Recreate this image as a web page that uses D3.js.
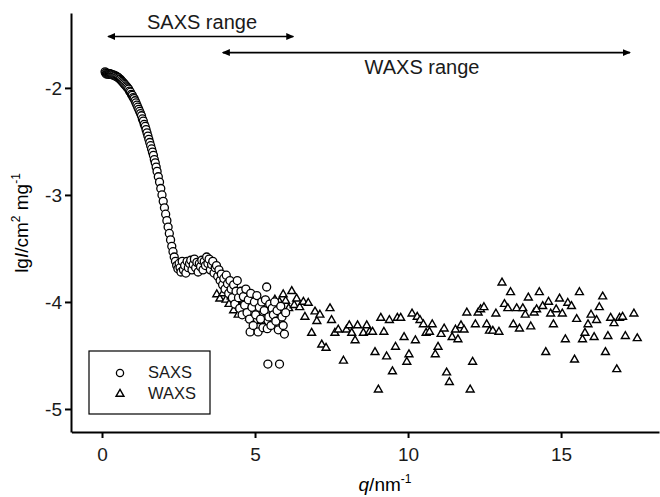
<!DOCTYPE html>
<html>
<head>
<meta charset="utf-8">
<script src="https://cdn.jsdelivr.net/npm/d3@7"></script>
<style>
    body { margin: 0; background: #fff; }
    svg { display: block; font-family: "Liberation Sans", Arial, sans-serif; }
    .axis path, .axis line { stroke: #000; stroke-width: 2px; }
    .axis text { font-size: 19px; fill: #1a1a1a; }
</style>
</head>
<body>
<svg id="chart" width="660" height="497"></svg>
<script>
// SAXS curve (q in nm^-1, lg I)
const saxsQ = [
    0.10, 0.12, 0.14, 0.16, 0.18, 0.20, 0.22, 0.24, 0.26, 0.28, 0.30, 0.33, 0.36, 0.39, 0.42, 0.45,
    0.48, 0.51, 0.54, 0.57, 0.60, 0.63, 0.66, 0.69, 0.72, 0.75, 0.78, 0.81, 0.84, 0.87, 0.90, 0.93,
    0.96, 0.99, 1.02, 1.05, 1.08, 1.11, 1.14, 1.17, 1.20, 1.23, 1.26, 1.29, 1.32, 1.35, 1.38, 1.41,
    1.44, 1.47, 1.50, 1.53, 1.56, 1.59, 1.62, 1.65, 1.68, 1.71, 1.74, 1.77, 1.80, 1.84, 1.88, 1.92,
    1.96, 2.00, 2.04, 2.08, 2.12, 2.16, 2.20, 2.24, 2.28, 2.32, 2.36, 2.40, 2.44, 2.48,
    2.52, 2.55, 2.58, 2.62, 2.66, 2.70, 2.74, 2.78, 2.82, 2.86, 2.90, 2.94, 2.98, 3.02, 3.06, 3.10,
    3.14, 3.18, 3.22, 3.26, 3.30, 3.34, 3.38, 3.42, 3.46, 3.50, 3.54, 3.58, 3.62, 3.66, 3.70, 3.74,
    3.78, 3.82, 3.86, 3.90, 3.94, 3.98, 4.02, 4.06, 4.10, 4.14, 4.18, 4.22, 4.26, 4.30, 4.34, 4.38,
    4.42, 4.46, 4.50, 4.54, 4.58, 4.62, 4.66, 4.70, 4.74, 4.78, 4.82, 4.84, 4.86, 4.90, 4.94, 4.98,
    5.02, 5.06, 5.10, 5.14, 5.18, 5.22, 5.26, 5.30, 5.34, 5.38, 5.40, 5.42, 5.45, 5.48, 5.52, 5.56,
    5.60, 5.64, 5.68, 5.72, 5.76, 5.80, 5.84, 5.88, 5.92, 5.96, 6.00
]
const saxsI = [
    -1.85, -1.86, -1.87, -1.865, -1.87, -1.865, -1.87, -1.87, -1.87, -1.87, -1.875, -1.875, -1.88, -1.88, -1.885, -1.89,
    -1.895, -1.90, -1.905, -1.915, -1.92, -1.93, -1.94, -1.95, -1.96, -1.97, -1.98, -1.99, -2.00, -2.01, -2.03, -2.04,
    -2.06, -2.07, -2.09, -2.10, -2.12, -2.14, -2.16, -2.18, -2.20, -2.22, -2.24, -2.26, -2.29, -2.31, -2.34, -2.36,
    -2.39, -2.42, -2.45, -2.48, -2.51, -2.54, -2.57, -2.60, -2.63, -2.67, -2.70, -2.74, -2.78, -2.83, -2.88, -2.94,
    -3.00, -3.06, -3.12, -3.18, -3.24, -3.30, -3.36, -3.42, -3.48, -3.53, -3.58, -3.62, -3.66, -3.69,
    -3.64, -3.68, -3.72, -3.62, -3.70, -3.66, -3.73, -3.62, -3.68, -3.64, -3.61, -3.70, -3.65, -3.60, -3.68, -3.63,
    -3.72, -3.64, -3.67, -3.61, -3.70, -3.62, -3.66, -3.58, -3.64, -3.60, -3.70, -3.65, -3.62, -3.73, -3.68, -3.66,
    -3.76, -3.70, -3.80, -3.74, -3.84, -3.78, -3.88, -3.75, -3.83, -3.92, -3.80, -3.88, -3.96, -3.84, -4.02, -3.90,
    -3.80, -3.96, -4.06, -3.90, -4.12, -3.95, -4.03, -3.88, -4.10, -3.98, -4.16, -4.28, -3.92, -4.05, -4.22, -4.00,
    -4.12, -3.94, -4.28, -4.05, -4.16, -4.00, -4.24, -4.08, -3.98, -3.86, -4.25, -4.58, -4.14, -4.02, -4.22, -4.06,
    -4.12, -4.00, -4.18, -4.08, -4.26, -4.58, -4.04, -4.14, -4.22, -4.30, -4.10
]

// WAXS points
const waxsQ = [
    3.75, 3.85, 3.95, 4.05, 4.15, 4.22, 4.30, 4.38, 4.45, 4.52, 4.60, 4.68, 4.75, 4.82, 4.90, 4.98,
    5.05, 5.12, 5.20, 5.28, 5.35, 5.42, 5.50, 5.58, 5.65, 5.72, 5.80, 5.88, 5.92, 6.00, 6.10, 6.20,
    6.28, 6.36, 6.46, 6.58, 6.63, 6.74, 6.85, 6.96, 7.02, 7.12, 7.18, 7.32, 7.45, 7.50,
    7.61, 7.72, 7.89, 7.99, 8.08, 8.16, 8.27, 8.35, 8.54, 8.65, 8.74, 8.84, 8.92, 9.03, 9.11, 9.21,
    9.30, 9.39, 9.49, 9.59, 9.65, 9.76, 9.87, 9.96, 10.03, 10.13, 10.24, 10.30, 10.39, 10.50, 10.59, 10.70,
    10.79, 10.89, 10.98, 11.08, 11.18, 11.26, 11.35, 11.44, 11.55, 11.63, 11.73, 11.83, 11.92, 12.03, 12.11, 12.20,
    12.29, 12.37, 12.48, 12.57, 12.66, 12.77, 12.87, 12.97, 13.07, 13.15, 13.26, 13.35, 13.44, 13.55, 13.64, 13.75,
    13.83, 13.93, 14.01, 14.12, 14.20, 14.29, 14.40, 14.50, 14.59, 14.66, 14.75, 14.84, 14.95, 15.04, 15.14, 15.22,
    15.34, 15.44, 15.51, 15.60, 15.70, 15.78, 15.88, 15.98, 16.08, 16.16, 16.25, 16.36, 16.45, 16.53, 16.62, 16.73,
    16.82, 16.91, 17.01, 17.10, 17.38, 17.49
]
const waxsI = [
    -3.93, -3.97, -3.92, -3.98, -4.02, -3.95, -4.08, -3.99, -4.12, -4.05, -3.97, -4.10, -4.02, -4.15, -4.05, -3.98,
    -4.10, -4.02, -4.18, -4.06, -3.99, -4.10, -4.04, -4.14, -3.98, -4.06, -4.00, -4.10, -3.93, -3.99, -4.06, -3.90,
    -4.03, -3.97, -4.05, -4.00, -4.14, -4.01, -4.29, -4.09, -4.18, -4.12, -4.40, -4.43, -4.06, -4.17,
    -4.29, -4.26, -4.55, -4.26, -4.22, -4.29, -4.36, -4.22, -4.29, -4.22, -4.28, -4.28, -4.47, -4.82, -4.15, -4.28,
    -4.51, -4.17, -4.65, -4.42, -4.15, -4.15, -4.33, -4.56, -4.49, -4.11, -4.36, -4.14, -4.17, -4.21, -4.29, -4.28,
    -4.21, -4.49, -4.42, -4.30, -4.25, -4.66, -4.75, -4.33, -4.26, -4.35, -4.22, -4.26, -4.10, -4.82, -4.56, -4.21,
    -4.10, -4.07, -4.05, -4.21, -4.27, -4.27, -4.11, -4.28, -3.82, -4.02, -4.06, -3.91, -4.21, -4.06, -4.25, -4.06,
    -4.12, -3.96, -4.23, -4.10, -4.07, -3.91, -4.04, -4.47, -4.00, -4.11, -4.21, -4.07, -3.97, -4.11, -4.35, -4.01,
    -4.04, -4.54, -4.16, -3.91, -4.35, -4.29, -4.21, -4.12, -4.33, -4.17, -4.05, -3.95, -4.47, -4.32, -4.15, -4.20,
    -4.63, -4.15, -4.14, -4.32, -4.11, -4.34
]

const xTicks = [0, 5, 10, 15]
const yTicks = [-2, -3, -4, -5]

// q ranges covered by each method
const saxsRange = [0.2, 6.25]
const waxsRange = [3.95, 17.25]

const svg = d3.select("#chart")

const x = d3.scaleLinear().domain([-1, 18.2]).range([71.4, 659])
const y = d3.scaleLinear().domain([-5.215, -1.3]).range([432, 13])

svg.append("g")
    .attr("class", "axis")
    .attr("transform", "translate(0,432)")
    .call(d3.axisBottom(x).tickValues(xTicks).tickSize(6).tickSizeOuter(0).tickPadding(10))
    .call(g => g.selectAll("text").attr("font-family", null))

svg.append("g")
    .attr("class", "axis")
    .attr("transform", "translate(71,0)")
    .call(d3.axisLeft(y).tickValues(yTicks).tickSize(6).tickSizeOuter(0).tickPadding(3)
        .tickFormat(d => d))
    .call(g => g.selectAll("text").attr("font-family", null))

svg.selectAll(".axis").attr("font-size", null)

// axis titles
const xTitle = svg.append("text")
    .attr("x", 385).attr("y", 491)
    .attr("text-anchor", "middle")
    .attr("font-size", 19)
xTitle.append("tspan").attr("font-style", "italic").text("q")
xTitle.append("tspan").text("/nm")
xTitle.append("tspan").attr("font-size", 12).attr("dy", -8).text("-1")

const yTitle = svg.append("text")
    .attr("transform", "translate(28,223) rotate(-90)")
    .attr("text-anchor", "middle")
    .attr("font-size", 19)
yTitle.append("tspan").text("lg")
yTitle.append("tspan").attr("font-style", "italic").text("I")
yTitle.append("tspan").text("/cm")
yTitle.append("tspan").attr("font-size", 12).attr("dy", -8).text("2")
yTitle.append("tspan").attr("dy", 8).text(" mg")
yTitle.append("tspan").attr("font-size", 12).attr("dy", -8).text("-1")

// range arrows
const defs = svg.append("defs")
defs.append("marker")
    .attr("id", "head")
    .attr("viewBox", "0 -4 8 8")
    .attr("refX", 7).attr("refY", 0)
    .attr("markerUnits", "userSpaceOnUse")
    .attr("markerWidth", 8).attr("markerHeight", 8)
    .attr("orient", "auto-start-reverse")
    .append("path")
    .attr("d", "M0,-3.5L8,0L0,3.5Z")
    .attr("fill", "#000")

const ranges = [
    {label: "SAXS range", span: saxsRange, lineY: -1.52, textY: -1.45},
    {label: "WAXS range", span: waxsRange, lineY: -1.67, textY: -1.87}
]
ranges.forEach(r => {
    svg.append("line")
        .attr("x1", x(r.span[0])).attr("x2", x(r.span[1]))
        .attr("y1", y(r.lineY)).attr("y2", y(r.lineY))
        .attr("stroke", "#000").attr("stroke-width", 1.6)
        .attr("marker-start", "url(#head)")
        .attr("marker-end", "url(#head)")
})
svg.append("text")
    .attr("x", 202).attr("y", y(ranges[0].textY))
    .attr("text-anchor", "middle").attr("font-size", 20)
    .attr("fill", "#1a1a1a")
    .text(ranges[0].label)
svg.append("text")
    .attr("x", 422).attr("y", y(ranges[1].textY))
    .attr("text-anchor", "middle").attr("font-size", 20)
    .attr("fill", "#1a1a1a")
    .text(ranges[1].label)

// data
const triangle = d3.symbol().type(d3.symbolTriangle).size(27)

svg.append("g")
    .selectAll("path")
    .data(d3.range(waxsQ.length))
    .enter()
    .append("path")
    .attr("d", triangle)
    .attr("transform", i => `translate(${x(waxsQ[i])},${y(waxsI[i])})`)
    .attr("fill", "#fff")
    .attr("stroke", "#000")
    .attr("stroke-width", 1.4)

svg.append("g")
    .selectAll("circle")
    .data(d3.range(saxsQ.length))
    .enter()
    .append("circle")
    .attr("cx", i => x(saxsQ[i]))
    .attr("cy", i => y(saxsI[i]))
    .attr("r", 4)
    .attr("fill", "#fff")
    .attr("stroke", "#000")
    .attr("stroke-width", 1.3)

// legend
const legend = svg.append("g")
legend.append("rect")
    .attr("x", 89).attr("y", 351).attr("width", 121).attr("height", 63)
    .attr("fill", "#fff").attr("stroke", "#000").attr("stroke-width", 1.2)
legend.append("circle")
    .attr("cx", 120).attr("cy", 373).attr("r", 3.6)
    .attr("fill", "#fff").attr("stroke", "#000").attr("stroke-width", 1.3)
legend.append("path")
    .attr("d", triangle)
    .attr("transform", "translate(120,394)")
    .attr("fill", "#fff").attr("stroke", "#000").attr("stroke-width", 1.4)
legend.append("text").attr("x", 148).attr("y", 378).attr("font-size", 16.5).attr("fill", "#1a1a1a").text("SAXS")
legend.append("text").attr("x", 148).attr("y", 399).attr("font-size", 16.5).attr("fill", "#1a1a1a").text("WAXS")
</script>
</body>
</html>
